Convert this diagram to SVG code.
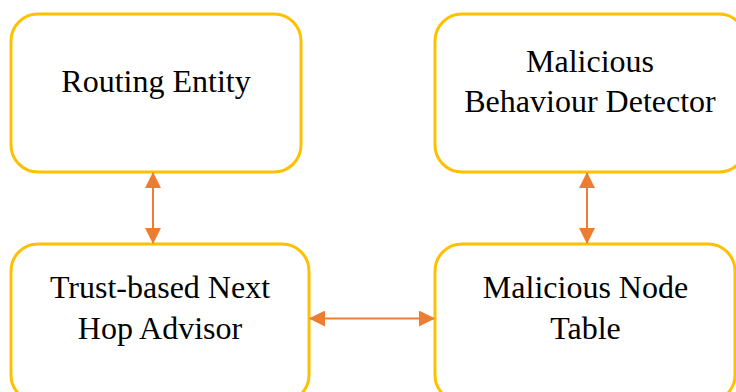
<svg xmlns="http://www.w3.org/2000/svg" width="736" height="392" viewBox="0 0 736 392">
  <style>
    .box { fill: #FFFFFF; stroke: #FFC000; stroke-width: 3; }
    .label { font-family: "Liberation Serif", "Times New Roman", serif; font-size: 32px; fill: #000000; text-anchor: middle; }
    .link { stroke: #ED7D31; stroke-width: 2; fill: none; marker-start: url(#head); marker-end: url(#head); }
  </style>
  <defs>
    <marker id="head" markerUnits="userSpaceOnUse" markerWidth="16" markerHeight="16" refX="15" refY="8" orient="auto-start-reverse" viewBox="0 0 16 16">
      <path d="M0,0 L16,8 L0,16 Z" fill="#ED7D31"/>
    </marker>
  </defs>
  <rect width="736" height="392" fill="#FFFFFF"/>

  <g id="routing-entity">
    <rect class="box" x="11" y="14" width="290" height="158" rx="27" ry="27"/>
    <text class="label" x="156" y="92">Routing Entity</text>
  </g>

  <g id="malicious-behaviour-detector">
    <rect class="box" x="435" y="14" width="311" height="158" rx="27" ry="27"/>
    <text class="label" x="590" y="72">Malicious</text>
    <text class="label" x="590" y="112">Behaviour Detector</text>
  </g>

  <g id="trust-based-next-hop-advisor">
    <rect class="box" x="11" y="244" width="298" height="158" rx="27" ry="27"/>
    <text class="label" x="160" y="298">Trust-based Next</text>
    <text class="label" x="160" y="339">Hop Advisor</text>
  </g>

  <g id="malicious-node-table">
    <rect class="box" x="435" y="244" width="300" height="158" rx="27" ry="27"/>
    <text class="label" x="585.5" y="298">Malicious Node</text>
    <text class="label" x="585.5" y="339">Table</text>
  </g>

  <g id="connectors">
    <path class="link" d="M153,173 L153,243"/>
    <path class="link" d="M587,173 L587,243"/>
    <path class="link" d="M310,318.5 L434,318.5"/>
  </g>
</svg>
